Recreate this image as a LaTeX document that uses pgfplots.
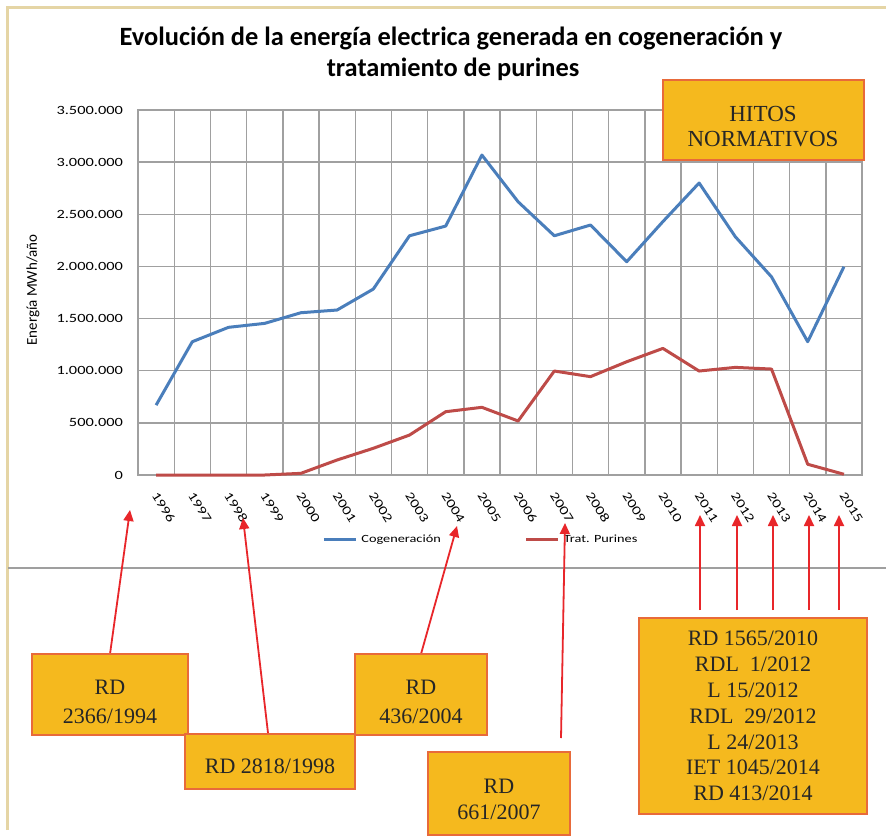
\documentclass[border=0pt]{standalone}
\usepackage{fontspec}
\setmainfont{Liberation Serif}
\newfontfamily\cf{Carlito}[FakeStretch=1.3]
\newfontfamily\cfn{Carlito}
\usepackage{pgfplots}
\usepackage{pgfplotstable}
\pgfplotsset{compat=1.18}
\usetikzlibrary{arrows.meta}
\definecolor{cogen}{HTML}{4A7EBB}
\definecolor{purin}{HTML}{BE4B48}
\definecolor{boxfill}{HTML}{F5B91E}
\definecolor{boxdraw}{HTML}{E86A3A}
\definecolor{arrowred}{HTML}{E8262A}
\definecolor{beige}{HTML}{E5D5A5}
\definecolor{gridgray}{HTML}{A0A0A0}
\pgfplotstableread{
x cog pur
0 670000 0
1 1278000 0
2 1416000 0
3 1454000 0
4 1556000 16000
5 1582000 144000
6 1783000 256000
7 2294000 383000
8 2387000 607000
9 3068000 649000
10 2620000 518000
11 2294000 997000
12 2397000 943000
13 2045000 1086000
14 2430000 1214000
15 2800000 997000
16 2285000 1032000
17 1900000 1016000
18 1278000 103000
19 1997000 7000
}\datatable
\begin{document}
\begin{tikzpicture}
\begin{scope}[x=0.5pt,y=-0.5pt,yshift=412.5pt]
\fill[white] (0,0) rectangle (886,825);
\useasboundingbox (0,0) rectangle (886,825);
\draw[beige, line width=1.5pt] (7,830) -- (7,8) -- (886,8);
\draw[gray!75, line width=1.2pt] (8,568) -- (886,568);
\node[font=\cfn\bfseries\fontsize{13.2}{15}\selectfont] at (451,38) {Evolución de la energía electrica generada en cogeneración y};
\node[font=\cfn\bfseries\fontsize{13.2}{15}\selectfont] at (453,69) {tratamiento de purines};
\end{scope}
\begin{axis}[
  at={(69pt,175pt)}, anchor=south west,
  scale only axis, width=362pt, height=182.5pt,
  xmin=-0.5, xmax=19.5, ymin=0, ymax=3500000,
  clip=false,
  xtick={0,1,2,3,4,5,6,7,8,9,10,11,12,13,14,15,16,17,18,19},
  xticklabels={1996,1997,1998,1999,2000,2001,2002,2003,2004,2005,2006,2007,2008,2009,2010,2011,2012,2013,2014,2015},
  minor xtick={-0.5,0.5,1.5,2.5,3.5,4.5,5.5,6.5,7.5,8.5,9.5,10.5,11.5,12.5,13.5,14.5,15.5,16.5,17.5,18.5,19.5},
  ytick={0,500000,1000000,1500000,2000000,2500000,3000000,3500000},
  scaled y ticks=false,
  /pgf/number format/assume math mode=true,
  yticklabel style={/pgf/number format/fixed, /pgf/number format/precision=0, /pgf/number format/1000 sep={.}, font=\cf\fontsize{6.3}{7}\selectfont, xshift=-4pt},
  xticklabel style={font=\cf\fontsize{6.3}{7}\selectfont, xshift=-2.5pt, yshift=-6pt, rotate=-58, anchor=west},
  ymajorgrids, xmajorgrids=false, xminorgrids,
  grid style={gridgray, line width=0.7pt},
  minor grid style={gridgray, line width=0.7pt},
  axis line style={gridgray, line width=0.7pt},
  major tick length=0pt, minor tick length=0pt,
  ylabel={Energía MWh/año},
  ylabel style={font=\cfn\fontsize{7.5}{8}\selectfont, at={(axis description cs:-0.145,0.507)}, anchor=center},
  legend style={at={(axis description cs:0.475,-0.178)}, anchor=center, draw=none, fill=none, legend columns=2, font=\cf\fontsize{5.5}{6}\selectfont, /tikz/every even column/.append style={column sep=40pt}},
  legend image code/.code={\draw[#1, line width=1.5pt] (0pt,0pt) -- (16pt,0pt);},
]
\addplot[cogen, line width=1.5pt, line join=round] table[x=x,y=cog]{\datatable};
\addplot[purin, line width=1.5pt, line join=round] table[x=x,y=pur]{\datatable};
\legend{Cogeneración, Trat. Purines}
\end{axis}
\begin{scope}[x=0.5pt,y=-0.5pt,yshift=412.5pt]
\tikzset{box/.style={fill=boxfill, draw=boxdraw, line width=0.9pt},
  arr/.style={arrowred, line width=0.9pt, -{Triangle[length=5.5pt,width=5pt]}},
  btxt/.style={align=center, font=\fontsize{11}{14.5}\selectfont, text=black!85}}
% HITOS box
\draw[box] (663,80) rectangle (864,160);
\node[align=center, font=\fontsize{11.5}{12.5}\selectfont, text=black!85] at (763,127) {HITOS\\NORMATIVOS};
% arrows
\draw[arr] (110,654) -- (130,510);
\draw[arr] (268,733) -- (243,518);
\draw[arr] (421,654) -- (457,526);
\draw[arr] (561,738) -- (565,523);
\foreach \xx in {700,737,773,809,839} \draw[arr] (\xx,610) -- (\xx,515);
% boxes
\draw[box] (32,654) rectangle (188,735);
\node[btxt] at (110,702) {RD\\2366/1994};
\draw[box] (185,734) rectangle (355,789);
\node[btxt] at (270,766) {RD 2818/1998};
\draw[box] (355,654) rectangle (487,735);
\node[btxt] at (421,702) {RD\\436/2004};
\draw[box] (428,752) rectangle (570,835);
\node[btxt, font=\fontsize{11}{13}\selectfont] at (499,799) {RD\\661/2007};
\draw[box] (639,618) rectangle (867,814);
\node[align=center, font=\fontsize{11}{12.9}\selectfont, text=black!85] at (753,716) {RD 1565/2010\\RDL\ \ 1/2012\\L 15/2012\\RDL\ \ 29/2012\\L 24/2013\\IET 1045/2014\\RD 413/2014};
\end{scope}
\end{tikzpicture}
\end{document}
